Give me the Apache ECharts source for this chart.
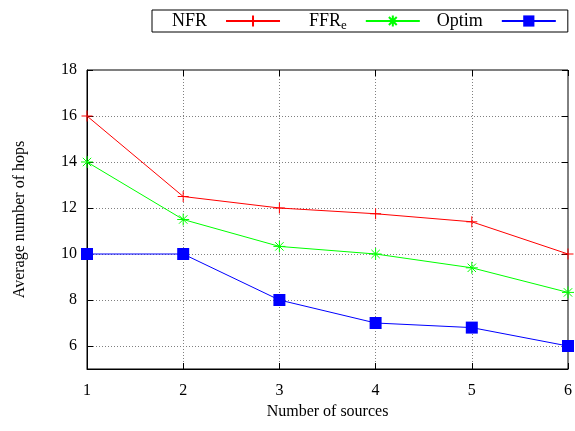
<!DOCTYPE html>
<html><head><meta charset="utf-8">
<script src="https://cdn.jsdelivr.net/npm/echarts@6/dist/echarts.min.js"></script>
<style>html,body{margin:0;padding:0;background:#fff}#c{width:575px;height:431px}</style>
</head><body><div id="c"></div>
<script>
const sources = [1, 2, 3, 4, 5, 6];
const nfr = [16, 12.5, 12, 11.75, 11.4, 10];
const ffre = [14, 11.5, 10.33, 10, 9.4, 8.33];
const optim = [10, 10, 8, 7, 6.8, 6];
const seriesNames = ['NFR', 'FFRe', 'Optim'];
const yTicks = [6, 8, 10, 12, 14, 16, 18];
const xTitle = 'Number of sources';
const yTitle = 'Average number of hops';

const font = 'Liberation Serif';
const pair = a => a.map((v, i) => [sources[i], v]);
const plusPath = 'path://M0,5L10,5M5,0L5,10';
const starPath = 'path://M0,5L10,5M5,0L5,10M1.5,1.5L8.5,8.5M1.5,8.5L8.5,1.5';
const legendPadLeft = [20, 15, 3];

const chart = echarts.init(document.getElementById('c'), null, {renderer: 'canvas'});
const gridLine = {show: true, lineStyle: {color: '#808080', type: [1, 2], width: 1}};
chart.setOption({
  animation: false,
  backgroundColor: '#fff',
  textStyle: {fontFamily: font},
  legend: {
    left: 152, top: 10,
    padding: [0, 11, 0, 0],
    borderColor: '#000', borderWidth: 1,
    align: 'right', itemWidth: 54, itemHeight: 14, itemGap: 13,
    data: seriesNames.map((n, i) => ({name: n, textStyle: {padding: [0, 14, 0, legendPadLeft[i]]}})),
    formatter: n => n === 'FFRe' ? 'FFR{sub|e}' : n,
    textStyle: {
      fontFamily: font, fontSize: 18, color: '#000', lineHeight: 20,
      rich: {sub: {fontFamily: font, fontSize: 13, color: '#000', lineHeight: 20, padding: [9, 0, 0, 0]}}
    }
  },
  grid: {left: 87, right: 7, top: 70, bottom: 62, show: true, borderColor: '#000', borderWidth: 1},
  xAxis: [{
    type: 'value', min: 1, max: 6, interval: 1,
    name: xTitle, nameLocation: 'middle', nameGap: 35,
    nameTextStyle: {fontFamily: font, fontSize: 16, color: '#000'},
    axisLine: {show: true, lineStyle: {color: '#000'}},
    axisTick: {inside: true, length: 6, lineStyle: {color: '#000'}},
    axisLabel: {fontFamily: font, fontSize: 16, color: '#000', margin: 14},
    splitLine: gridLine
  }, {
    type: 'value', min: 1, max: 6, interval: 1, position: 'top',
    axisLine: {show: false}, axisLabel: {show: false},
    axisTick: {inside: true, length: 6, lineStyle: {color: '#000'}},
    splitLine: {show: false}
  }],
  yAxis: [{
    type: 'value', min: 5, max: 18, interval: 1,
    name: yTitle, nameLocation: 'middle', nameGap: 59,
    nameTextStyle: {fontFamily: font, fontSize: 16, color: '#000'},
    axisLine: {show: true, lineStyle: {color: '#000'}},
    axisTick: {inside: true, length: 6, lineStyle: {color: '#000'}, customValues: yTicks},
    axisLabel: {fontFamily: font, fontSize: 16, color: '#000', margin: 10, customValues: yTicks},
    splitLine: gridLine
  }, {
    type: 'value', min: 5, max: 18, interval: 1, position: 'right',
    axisLine: {show: false}, axisLabel: {show: false},
    axisTick: {inside: true, length: 6, lineStyle: {color: '#000'}, customValues: yTicks},
    splitLine: {show: false}
  }],
  series: [{
    name: 'NFR', type: 'line', data: pair(nfr),
    symbol: plusPath, symbolSize: 11,
    lineStyle: {color: '#ff0000', width: 1},
    itemStyle: {color: 'none', borderColor: '#ff0000', borderWidth: 1}
  }, {
    name: 'FFRe', type: 'line', data: pair(ffre),
    symbol: starPath, symbolSize: 12,
    lineStyle: {color: '#00ff00', width: 1},
    itemStyle: {color: 'none', borderColor: '#00ff00', borderWidth: 1}
  }, {
    name: 'Optim', type: 'line', data: pair(optim),
    symbol: 'rect', symbolSize: 12,
    lineStyle: {color: '#0000ff', width: 1},
    itemStyle: {color: '#0000ff', borderWidth: 0}
  }]
});
</script></body></html>
